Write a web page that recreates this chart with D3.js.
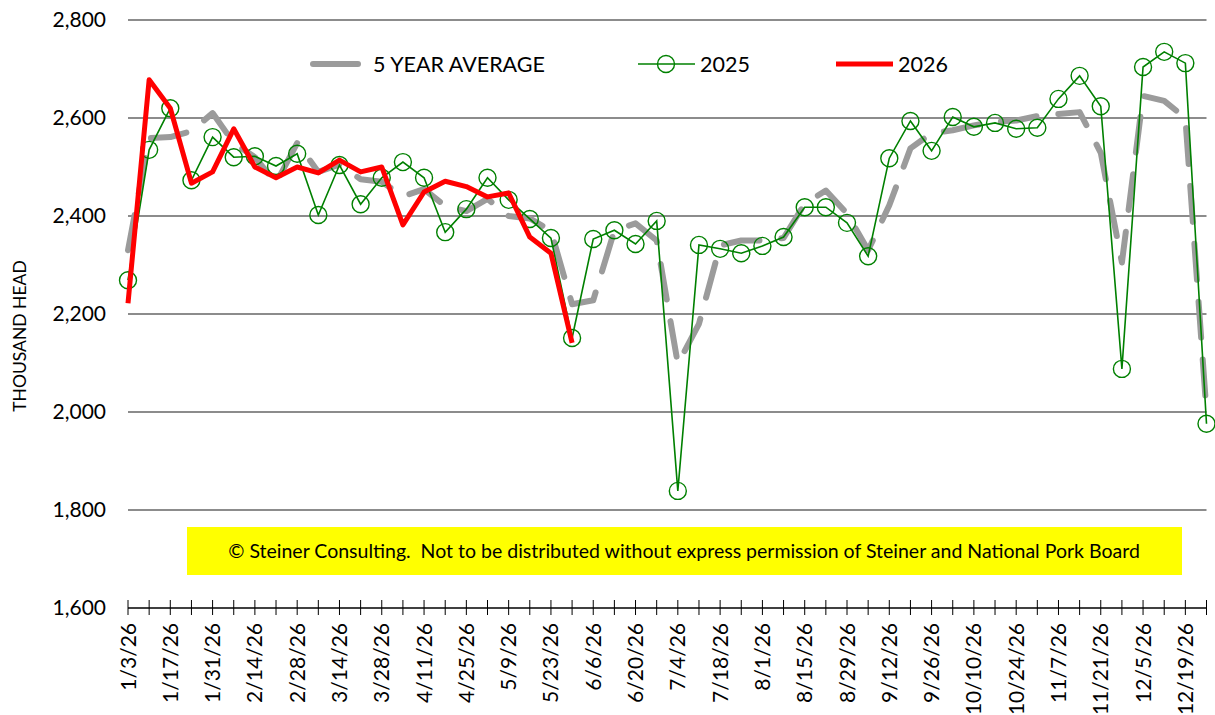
<!DOCTYPE html>
<html>
<head>
<meta charset="utf-8">
<script src="https://cdn.jsdelivr.net/npm/d3@7"></script>
<style>
  body { margin: 0; background: #fff; }
  text { font-family: Lato, "Open Sans", sans-serif; fill: #000; }
</style>
</head>
<body>
<div id="chart"></div>
<script>
// weekly categories (Saturdays of 2026)
const weeks = ['1/3/26','1/10/26','1/17/26','1/24/26','1/31/26','2/7/26','2/14/26','2/21/26','2/28/26','3/7/26',
  '3/14/26','3/21/26','3/28/26','4/4/26','4/11/26','4/18/26','4/25/26','5/2/26','5/9/26','5/16/26',
  '5/23/26','5/30/26','6/6/26','6/13/26','6/20/26','6/27/26','7/4/26','7/11/26','7/18/26','7/25/26',
  '8/1/26','8/8/26','8/15/26','8/22/26','8/29/26','9/5/26','9/12/26','9/19/26','9/26/26','10/3/26',
  '10/10/26','10/17/26','10/24/26','10/31/26','11/7/26','11/14/26','11/21/26','11/28/26','12/5/26','12/12/26',
  '12/19/26','12/26/26'];

const avg5yr = [2330, 2559, 2561, 2573, 2610, 2549, 2520, 2467, 2549, 2490,
  2505, 2475, 2470, 2440, 2455, 2420, 2410, 2435, 2400, 2395,
  2370, 2220, 2228, 2370, 2385, 2350, 2098, 2180, 2340, 2350,
  2350, 2355, 2425, 2452, 2405, 2330, 2422, 2538, 2569, 2575,
  2585, 2592, 2595, 2604, 2608, 2612, 2529, 2305, 2645, 2635,
  2600, 2000];

const y2025 = [2269, 2535, 2620, 2473, 2561, 2520, 2522, 2502, 2527, 2402,
  2504, 2424, 2478, 2510, 2478, 2367, 2414, 2478, 2433, 2394,
  2355, 2151, 2353, 2371, 2343, 2390, 1839, 2341, 2333, 2324,
  2339, 2357, 2418, 2418, 2386, 2318, 2518, 2594, 2533, 2602,
  2582, 2590, 2578, 2580, 2639, 2686, 2624, 2088, 2704, 2735,
  2712, 1976];

const y2026 = [2222, 2678, 2620, 2467, 2490, 2578, 2500, 2478, 2500, 2488,
  2514, 2490, 2500, 2382, 2449, 2471, 2460, 2439, 2447, 2357,
  2324, 2141];

const yTicks = [1600, 1800, 2000, 2200, 2400, 2600, 2800];

const width = 1215, height = 715;
const plotLeft = 128, plotRight = 1206.5, plotTop = 20, plotBottom = 608;

const svg = d3.select('#chart').append('svg')
  .attr('width', width)
  .attr('height', height);

const x = d3.scalePoint().domain(weeks).range([plotLeft, plotRight]);
const y = d3.scaleLinear().domain([1600, 2800]).range([plotBottom, plotTop]);

// gridlines
svg.append('g')
  .selectAll('line')
  .data(yTicks.slice(1))
  .enter()
  .append('line')
  .attr('x1', plotLeft).attr('x2', plotRight)
  .attr('y1', d => y(d)).attr('y2', d => y(d))
  .attr('stroke', '#8c8c8c')
  .attr('stroke-width', 2);

// y axis labels
const yAxis = svg.append('g')
  .attr('transform', `translate(${plotLeft},0)`)
  .call(d3.axisLeft(y).tickValues(yTicks).tickSize(0).tickPadding(22).tickFormat(d3.format(',')));
yAxis.select('.domain').remove();
yAxis.selectAll('text').style('font-size', '21px').style('font-family', 'Lato, sans-serif').attr('fill', '#000');

svg.append('text')
  .attr('transform', `translate(26,336) rotate(-90)`)
  .attr('text-anchor', 'middle')
  .style('font-size', '17.5px')
  .text('THOUSAND HEAD');

// x axis
svg.append('line')
  .attr('x1', plotLeft).attr('x2', plotRight)
  .attr('y1', plotBottom).attr('y2', plotBottom)
  .attr('stroke', '#000').attr('stroke-width', 1.3);

svg.append('g')
  .selectAll('line')
  .data(weeks)
  .enter()
  .append('line')
  .attr('x1', d => x(d)).attr('x2', d => x(d))
  .attr('y1', plotBottom - 8).attr('y2', plotBottom + 7)
  .attr('stroke', '#000').attr('stroke-width', 1);

svg.append('g')
  .selectAll('text')
  .data(weeks.filter((d, i) => i % 2 === 0))
  .enter()
  .append('text')
  .attr('transform', d => `translate(${x(d) + 7.5},${plotBottom + 15}) rotate(-90)`)
  .attr('text-anchor', 'end')
  .style('font-size', '21px')
  .text(d => d);

// copyright box
svg.append('rect')
  .attr('x', 187).attr('y', 527)
  .attr('width', 995).attr('height', 48)
  .attr('fill', '#ffff00');
svg.append('text')
  .attr('x', 684).attr('y', 558)
  .attr('text-anchor', 'middle')
  .attr('xml:space', 'preserve')
  .style('font-size', '19.5px')
  .style('white-space', 'pre')
  .text('\u00a9 Steiner Consulting.  Not to be distributed without express permission of Steiner and National Pork Board');

// series
const line = d3.line()
  .x((d, i) => x(weeks[i]))
  .y(d => y(d));

svg.append('path')
  .datum(avg5yr)
  .attr('d', line)
  .attr('fill', 'none')
  .attr('stroke', '#9b9b9b')
  .attr('stroke-width', 6)
  .attr('stroke-linecap', 'round')
  .attr('stroke-linejoin', 'round')
  .attr('stroke-dasharray', '36,22');

svg.append('path')
  .datum(y2025)
  .attr('d', line)
  .attr('fill', 'none')
  .attr('stroke', '#008000')
  .attr('stroke-width', 1.6);

svg.append('g')
  .selectAll('circle')
  .data(y2025)
  .enter()
  .append('circle')
  .attr('cx', (d, i) => x(weeks[i]))
  .attr('cy', d => y(d))
  .attr('r', 8.5)
  .attr('fill', 'none')
  .attr('stroke', '#008000')
  .attr('stroke-width', 1.4);

svg.append('path')
  .datum(y2026)
  .attr('d', line)
  .attr('fill', 'none')
  .attr('stroke', '#ff0000')
  .attr('stroke-width', 5)
  .attr('stroke-linejoin', 'round');

// legend
const legend = svg.append('g');
legend.append('line')
  .attr('x1', 313).attr('x2', 358).attr('y1', 64).attr('y2', 64)
  .attr('stroke', '#9b9b9b').attr('stroke-width', 6).attr('stroke-linecap', 'round');
legend.append('text').attr('x', 373).attr('y', 72).style('font-size', '21.5px').text('5 YEAR AVERAGE');

legend.append('line')
  .attr('x1', 638).attr('x2', 695).attr('y1', 64).attr('y2', 64)
  .attr('stroke', '#008000').attr('stroke-width', 1.6);
legend.append('circle')
  .attr('cx', 666).attr('cy', 64).attr('r', 8.5)
  .attr('fill', 'none').attr('stroke', '#008000').attr('stroke-width', 1.4);
legend.append('text').attr('x', 700).attr('y', 72).style('font-size', '21.5px').text('2025');

legend.append('line')
  .attr('x1', 836).attr('x2', 893).attr('y1', 64).attr('y2', 64)
  .attr('stroke', '#ff0000').attr('stroke-width', 5);
legend.append('text').attr('x', 898).attr('y', 72).style('font-size', '21.5px').text('2026');
</script>
</body>
</html>
